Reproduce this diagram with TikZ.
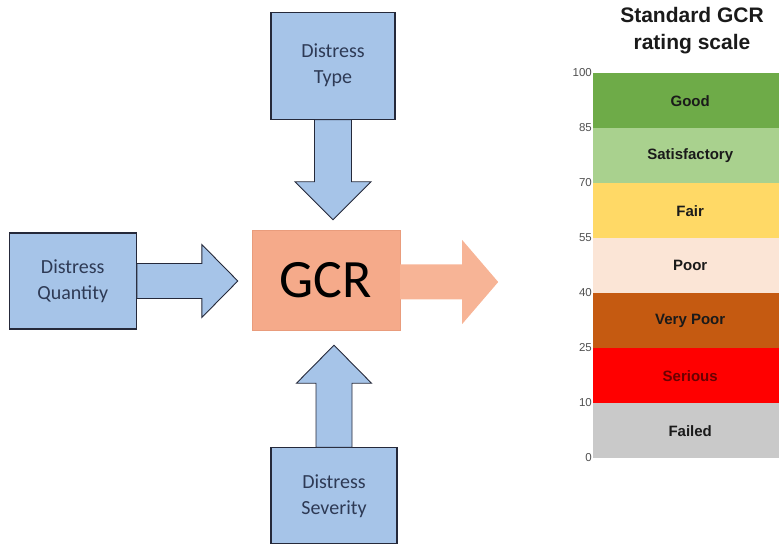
\documentclass[tikz,border=0pt]{standalone}
\usepackage{fontspec}
\setmainfont{Carlito}
\newfontfamily\chartfont{Liberation Sans}
\usepackage{xcolor}
\usetikzlibrary{positioning, calc}

\definecolor{boxblue}{HTML}{A6C4E8}
\definecolor{boxline}{HTML}{25293A}
\definecolor{boxtext}{HTML}{2E3A55}
\definecolor{gcrfill}{HTML}{F5AA8A}
\definecolor{gcrline}{HTML}{E99C7C}
\definecolor{outorange}{HTML}{F7B496}
\definecolor{tickgray}{HTML}{505050}
\definecolor{good}{HTML}{6EAB48}
\definecolor{satisf}{HTML}{A9D18E}
\definecolor{fair}{HTML}{FFD966}
\definecolor{poor}{HTML}{FBE5D6}
\definecolor{verypoor}{HTML}{C55A11}
\definecolor{serious}{HTML}{FF0000}
\definecolor{failed}{HTML}{C9C9C9}
\definecolor{darkred}{HTML}{6B0000}
\definecolor{darktext}{HTML}{1A1A1A}

\begin{document}
\begin{tikzpicture}[
        distress/.style={
          draw=boxline,
          line width=1.2pt,
          fill=boxblue,
          text=boxtext,
          minimum width=126pt,
          minimum height=96pt,
          align=center,
          font=\fontsize{20}{26}\selectfont
        },
        gcrbox/.style={
          draw=gcrline,
          fill=gcrfill,
          minimum width=148pt,
          minimum height=100pt,
          font=\fontsize{54}{60}\selectfont
        },
        bluearrow/.style={draw=boxline, line width=0.9pt, fill=boxblue},
        outarrow/.style={fill=outorange},
        band/.style={
          anchor=north west,
          inner sep=0pt,
          minimum width=194pt,
          minimum height=55pt,
          font=\chartfont\bfseries\fontsize{15}{18}\selectfont
        },
        tick/.style={anchor=east, inner sep=1pt, text=tickgray, font=\chartfont\fontsize{11.5}{13}\selectfont}
      ]
        \useasboundingbox (0,0) rectangle (779pt,544pt);

        \node[gcrbox] (gcr) at (326pt,264pt) {GCR};
        \node[distress, minimum width=124pt, minimum height=107pt, above=110pt of gcr, xshift=7pt] (type) {Distress\\Type};
        \node[distress, minimum width=127pt, left=115pt of gcr, yshift=-1pt] (quantity) {Distress\\Quantity};
        \node[distress, below=117pt of gcr, xshift=8pt] (severity) {Distress\\Severity};
        \coordinate (result) at ($(gcr.east)+(98pt,-2pt)$);

        % block arrows into and out of GCR
        \draw[bluearrow] let \p1=(type.south), \p2=(gcr.north) in
          (\x1-18.5pt,\y1) -- (\x1-18.5pt,\y2+48pt) -- (\x1-38pt,\y2+48pt) -- (\x1,\y2+10pt)
          -- (\x1+38pt,\y2+48pt) -- (\x1+18.5pt,\y2+48pt) -- (\x1+18.5pt,\y1) -- cycle;
        \draw[bluearrow] let \p1=(quantity.east), \p2=(gcr.west) in
          (\x1,\y1+17.5pt) -- (\x2-50pt,\y1+17.5pt) -- (\x2-50pt,\y1+36.5pt) -- (\x2-14pt,\y1)
          -- (\x2-50pt,\y1-36.5pt) -- (\x2-50pt,\y1-17.5pt) -- (\x1,\y1-17.5pt) -- cycle;
        \draw[bluearrow] let \p1=(severity.north), \p2=(gcr.south) in
          (\x1-18pt,\y1) -- (\x1-18pt,\y2-53pt) -- (\x1-37.5pt,\y2-53pt) -- (\x1,\y2-15pt)
          -- (\x1+37.5pt,\y2-53pt) -- (\x1+18pt,\y2-53pt) -- (\x1+18pt,\y1) -- cycle;
        \fill[outarrow] let \p1=(gcr.east), \p2=(result) in
          (\x1,\y2+17.5pt) -- (\x2-36pt,\y2+17.5pt) -- (\x2-36pt,\y2+42pt) -- (\x2,\y2)
          -- (\x2-36pt,\y2-42pt) -- (\x2-36pt,\y2-17.5pt) -- (\x1,\y2-17.5pt) -- cycle;

        % rating scale
        \node[align=center, text=darktext, font=\chartfont\bfseries\fontsize{21}{27}\selectfont] (title) at (692pt,513pt) {Standard GCR\\rating scale};
        \foreach \lab/\col/\txt [count=\i] in {Good/good/darktext, Satisfactory/satisf/darktext, Fair/fair/darktext, Poor/poor/darktext, Very Poor/verypoor/darktext, Serious/serious/darkred, Failed/failed/darktext}
          \node[band, fill=\col, text=\txt] (band\i) at (593pt,{526pt-55pt*\i}) {\lab};
        \foreach \v [count=\i] in {100,85,70,55,40,25,10,0}
          \node[tick] (tick\i) at (593pt,{526pt-55pt*\i}) {\v};
      \end{tikzpicture}
\end{document}
